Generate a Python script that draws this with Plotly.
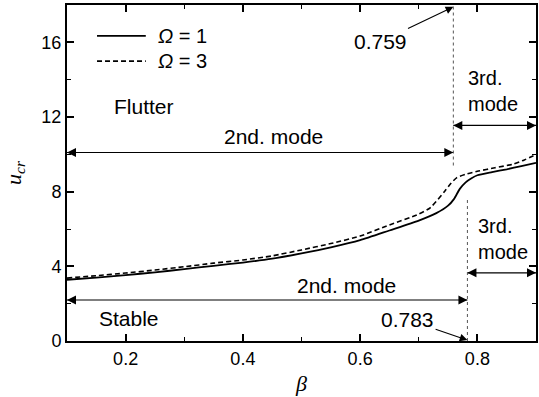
import plotly.graph_objects as go

# ---- data ----
beta_w1 = [0.10, 0.15, 0.20, 0.25, 0.30, 0.35, 0.40, 0.45, 0.50, 0.55, 0.60, 0.65,
           0.70, 0.73, 0.75, 0.76, 0.77, 0.78, 0.79, 0.80, 0.825, 0.85, 0.875, 0.90]
u_w1 = [3.28, 3.40, 3.53, 3.68, 3.85, 4.03, 4.20, 4.41, 4.70, 5.02, 5.40, 5.92,
        6.45, 6.85, 7.25, 7.60, 8.15, 8.50, 8.72, 8.88, 9.05, 9.20, 9.37, 9.54]

beta_w3 = [0.10, 0.15, 0.20, 0.25, 0.30, 0.35, 0.40, 0.45, 0.50, 0.55, 0.60, 0.65,
           0.70, 0.72, 0.745, 0.755, 0.765, 0.78, 0.80, 0.83, 0.86, 0.88, 0.90]
u_w3 = [3.37, 3.50, 3.64, 3.80, 3.98, 4.17, 4.34, 4.56, 4.88, 5.22, 5.62, 6.22,
        6.80, 7.15, 8.05, 8.45, 8.75, 8.93, 9.09, 9.28, 9.47, 9.70, 9.99]

beta_flutter_switch = 0.759
beta_stable_switch = 0.783
beta_min, beta_max = 0.1, 0.9
u_min, u_max = 0, 18

x_tickvals = [0.2, 0.4, 0.6, 0.8]
x_ticktext = ["0.2", "0.4", "0.6", "0.8"]
y_tickvals = [0, 4, 8, 12, 16]
y_ticktext = ["0", "4", "8", "12", "16"]

# annotation levels (u values)
flutter_arrow2_u = 10.1
flutter_arrow3_u = 11.55
stable_arrow2_u = 2.2
stable_arrow3_u = 3.65
flutter_vline_bottom = 9.4
stable_vline_top = 7.6

FONT = "Liberation Sans, Arial, sans-serif"
SERIF = "Liberation Serif, Times New Roman, serif"

fig = go.Figure()
fig.add_trace(go.Scatter(x=beta_w1, y=u_w1, mode="lines",
                         line=dict(color="black", width=1.8, shape="spline", smoothing=0.6),
                         showlegend=False))
fig.add_trace(go.Scatter(x=beta_w3, y=u_w3, mode="lines",
                         line=dict(color="black", width=1.6, dash="5px,3px", shape="spline", smoothing=0.6),
                         showlegend=False))

# vertical dotted lines
fig.add_shape(type="line", xref="x", yref="y", x0=beta_flutter_switch, x1=beta_flutter_switch,
              y0=flutter_vline_bottom, y1=u_max, line=dict(color="#555", width=1, dash="dot"))
fig.add_shape(type="line", xref="x", yref="y", x0=beta_stable_switch, x1=beta_stable_switch,
              y0=u_min, y1=stable_vline_top, line=dict(color="#555", width=1, dash="dot"))


def double_arrow(x0, x1, y):
    fig.add_trace(go.Scatter(
        x=[x0, x1], y=[y, y], mode="lines+markers", cliponaxis=False, showlegend=False,
        line=dict(color="black", width=1.1),
        marker=dict(symbol=["arrow-left", "arrow-right"], size=9, color="black",
                    line=dict(width=0))))


double_arrow(beta_min, beta_flutter_switch, flutter_arrow2_u)
double_arrow(beta_flutter_switch, beta_max, flutter_arrow3_u)
double_arrow(beta_min, beta_stable_switch, stable_arrow2_u)
double_arrow(beta_stable_switch, beta_max, stable_arrow3_u)

ann = []


def label(x, y, text, xanchor="center", size=21):
    ann.append(dict(x=x, y=y, xref="x", yref="y", text=text, showarrow=False,
                    xanchor=xanchor, yanchor="middle", align="left",
                    font=dict(family=FONT, size=size, color="black")))


label(0.452, 10.95, "2nd. mode")
label(0.577, 2.95, "2nd. mode")
label(0.781, 13.37, "3rd.<br>mode", "left", 20)
label(0.798, 5.48, "3rd.<br>mode", "left", 20)
label(0.176, 12.56, "Flutter", "left")
label(0.151, 1.18, "Stable", "left")

# value callouts
ann.append(dict(x=beta_flutter_switch, y=17.9, ax=0.635, ay=16.05, xref="x", yref="y",
                axref="x", ayref="y", text=f"{beta_flutter_switch:.3f}", showarrow=True,
                arrowhead=2, arrowsize=1.4, arrowwidth=1.1, arrowcolor="black", standoff=0,
                font=dict(family=FONT, size=21, color="black")))
ann.append(dict(x=beta_stable_switch, y=0.05, ax=0.681, ay=1.13, xref="x", yref="y",
                axref="x", ayref="y", text=f"{beta_stable_switch:.3f}", showarrow=True,
                arrowhead=2, arrowsize=1.4, arrowwidth=1.1, arrowcolor="black", standoff=0,
                font=dict(family=FONT, size=21, color="black")))

# legend (manual)
fig.add_shape(type="line", xref="paper", yref="paper", x0=0.064, x1=0.168, y0=0.908, y1=0.908,
              line=dict(color="black", width=1.8))
fig.add_shape(type="line", xref="paper", yref="paper", x0=0.064, x1=0.168, y0=0.833, y1=0.833,
              line=dict(color="black", width=1.6, dash="5px,3px"))
for yy, txt in ((0.908, "<i>Ω</i> = 1"), (0.833, "<i>Ω</i> = 3")):
    ann.append(dict(x=0.19, y=yy, xref="paper", yref="paper", text=txt, showarrow=False,
                    xanchor="left", yanchor="middle",
                    font=dict(family=FONT, size=20, color="black")))

fig.update_layout(
    width=539, height=397,
    margin=dict(l=67, r=1, t=5, b=56),
    paper_bgcolor="white", plot_bgcolor="white",
    annotations=ann,
    font=dict(family=FONT, color="black"),
)
fig.update_xaxes(range=[beta_min, beta_max], tickvals=x_tickvals, ticktext=x_ticktext,
                 ticks="inside", ticklen=7, tickwidth=1.5, tickcolor="black",
                 minor=dict(ticks="inside", ticklen=4, tickwidth=1.2, tickcolor="black", dtick=0.1, tick0=0.1, showgrid=False),
                 showline=True, linecolor="black", linewidth=2, mirror="allticks",
                 showgrid=False, zeroline=False,
                 tickfont=dict(family=FONT, size=18, color="black"),
                 title=dict(text="<i>β</i>", font=dict(family=SERIF, size=22), standoff=8))
fig.update_yaxes(range=[u_min, u_max], tickvals=y_tickvals, ticktext=y_ticktext,
                 ticks="inside", ticklen=7, tickwidth=1.5, tickcolor="black",
                 minor=dict(ticks="inside", ticklen=4, tickwidth=1.2, tickcolor="black", dtick=2, tick0=0, showgrid=False),
                 showline=True, linecolor="black", linewidth=2, mirror="allticks",
                 showgrid=False, zeroline=False,
                 tickfont=dict(family=FONT, size=18, color="black"),
                 title=dict(text="<i>u</i><sub><i>cr</i></sub>", font=dict(family=SERIF, size=22), standoff=14))

fig.write_html("out.html", config={"displayModeBar": False},
               post_script="document.body.style.margin='0';")
